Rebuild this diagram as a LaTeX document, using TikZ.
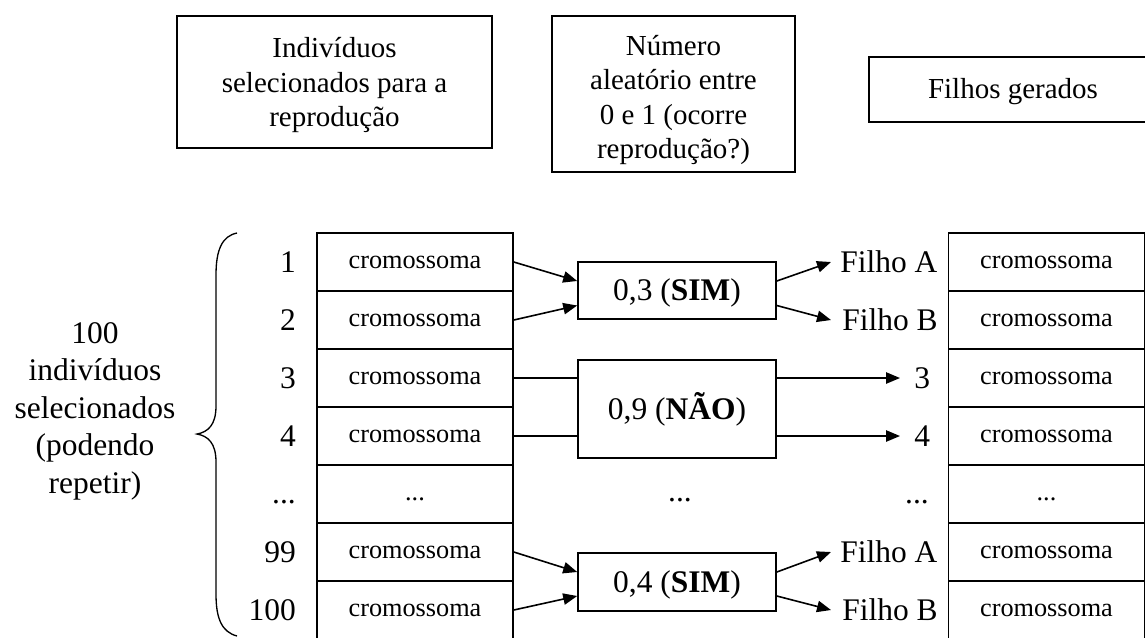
\documentclass[tikz,border=0pt]{standalone}
\usepackage{fontspec}
\setmainfont{Liberation Serif}
\usetikzlibrary{arrows.meta,calc}
\begin{document}
\begin{tikzpicture}[x=0.75pt,y=-0.75pt,
  lw/.style={line width=1.2pt},
  mainfont/.style={font=\fontsize{23.6}{28.1}\selectfont},
  topbox/.style={draw,lw,inner sep=0pt},
  toptext/.style={align=center,inner sep=0pt,font=\fontsize{21.75}{25.9}\selectfont},
  cell/.style={draw,lw,minimum width=196*0.75pt,minimum height=58*0.75pt,inner sep=0pt,
    text height=9pt,text depth=0pt,font=\fontsize{19.7}{23}\selectfont},
  decbox/.style={draw,lw,minimum width=198*0.75pt,inner sep=0pt,mainfont,
    text height=15.6pt,text depth=0pt},
  lbl/.style={inner sep=1.5pt,mainfont,text height=15.6pt,text depth=0pt},
  dots/.style={inner sep=1.5pt,mainfont,text height=10.6pt,text depth=0pt},
  arr/.style={lw,-{Triangle[length=10.5pt,width=8.5pt]}}
]
\useasboundingbox (0,0) rectangle (1145,637);
\clip (0,0) rectangle (1145,637);

% header boxes
\node[topbox,minimum width=315*0.75pt,minimum height=132*0.75pt] (h1) at (334.5,82) {};
\node[toptext] (h1t) at (334.5,85) {Indivíduos\\selecionados para a\\reprodução};
\node[topbox,minimum width=243*0.75pt,minimum height=156*0.75pt] (h2) at (673.5,94) {};
\node[toptext] (h2t) at (673.5,100) {Número\\aleatório entre\\0 e 1 (ocorre\\reprodução?)};
\node[topbox,minimum width=288*0.75pt,minimum height=65*0.75pt] (h3) at (1013,89.5) {};
\node[toptext] (h3t) at (1013,92) {Filhos gerados};

% left column
\node[cell] (L1) at (415,262) {cromossoma};
\node[cell] (L2) at (415,320) {cromossoma};
\node[cell] (L3) at (415,378) {cromossoma};
\node[cell] (L4) at (415,436) {cromossoma};
\node[cell] (L5) at (415,494) {...};
\node[cell] (L6) at (415,552) {cromossoma};
\node[cell] (L7) at (415,610) {cromossoma};

% right column
\node[cell] (R1) at (1046.5,262) {cromossoma};
\node[cell] (R2) at (1046.5,320) {cromossoma};
\node[cell] (R3) at (1046.5,378) {cromossoma};
\node[cell] (R4) at (1046.5,436) {cromossoma};
\node[cell] (R5) at (1046.5,494) {...};
\node[cell] (R6) at (1046.5,552) {cromossoma};
\node[cell] (R7) at (1046.5,610) {cromossoma};

% numbers
\node[lbl,anchor=east] (n1) at (298,262) {1};
\node[lbl,anchor=east] (n2) at (298,320) {2};
\node[lbl,anchor=east] (n3) at (298,378) {3};
\node[lbl,anchor=east] (n4) at (298,436) {4};
\node[dots,anchor=east] (n5) at (298,496) {...};
\node[lbl,anchor=east] (n6) at (298,552) {99};
\node[lbl,anchor=east] (n7) at (298,610) {100};

% left label and brace
\node[mainfont,align=center,inner sep=0pt] (lab) at (95,411)
  {100\\indivíduos\\selecionados\\(podendo\\repetir)};
\draw[line width=1pt] (237,233) .. controls (222,236) and (216,250) .. (216,275)
  -- (216,406) .. controls (216,425) and (208,432) .. (197,434)
  .. controls (208,436) and (216,443) .. (216,462)
  -- (216,594) .. controls (216,619) and (222,632) .. (237,636);

% decision boxes
\node[decbox,minimum height=57*0.75pt] (s1) at (677,290.5) {0,3 (\textbf{SIM})};
\node[decbox,minimum height=98*0.75pt] (s2) at (677,409) {0,9 (\textbf{NÃO})};
\node[decbox,minimum height=58*0.75pt] (s3) at (677,582) {0,4 (\textbf{SIM})};
\node[dots] (md) at (680,494) {...};

% offspring labels
\node[lbl,anchor=west,inner xsep=9*0.75pt] (fa1) at (831,262) {Filho A};
\node[lbl,anchor=west,inner xsep=11*0.75pt] (fb1) at (831,320) {Filho B};
\node[lbl,anchor=west,inner xsep=14*0.75pt] (c3) at (900,378) {3};
\node[lbl,anchor=west,inner xsep=14*0.75pt] (c4) at (900,436) {4};
\node[dots,anchor=east] (rd) at (931,496) {...};
\node[lbl,anchor=west,inner xsep=9*0.75pt] (fa2) at (831,552) {Filho A};
\node[lbl,anchor=west,inner xsep=11*0.75pt] (fb2) at (831,610) {Filho B};

% connectors
\draw[arr] (L1.east) -- ($(s1.west)+(0,-9.5)$);
\draw[arr] (L2.east) -- ($(s1.west)+(0,15)$);
\draw[arr] ($(s1.east)+(0,-9.5)$) -- (fa1.west);
\draw[arr] ($(s1.east)+(0,15)$) -- (fb1.west);

\draw[lw] (L3.east) -- (L3.east -| s2.west);
\draw[arr] (L3.east -| s2.east) -- (c3.west);
\draw[lw] (L4.east) -- (L4.east -| s2.west);
\draw[arr] (L4.east -| s2.east) -- (c4.west);

\draw[arr] (L6.east) -- ($(s3.west)+(0,-10)$);
\draw[arr] (L7.east) -- ($(s3.west)+(0,14)$);
\draw[arr] ($(s3.east)+(0,-10)$) -- (fa2.west);
\draw[arr] ($(s3.east)+(0,14)$) -- (fb2.west);
\end{tikzpicture}
\end{document}
